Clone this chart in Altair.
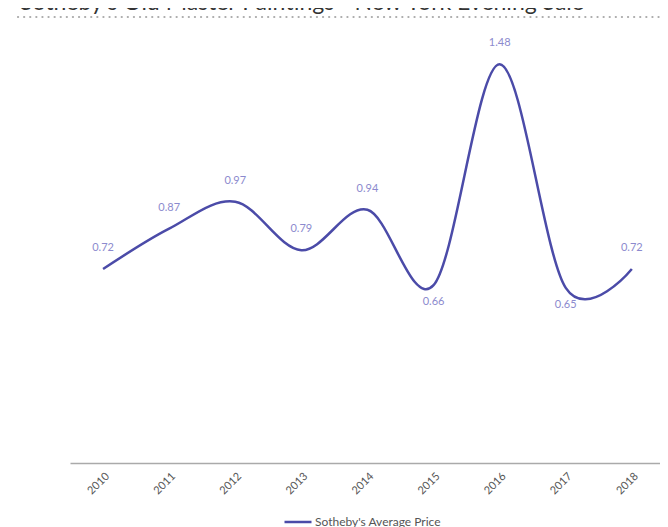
import altair as alt
import pandas as pd

years = ["2010", "2011", "2012", "2013", "2014", "2015", "2016", "2017", "2018"]
avg_price = [0.72, 0.87, 0.97, 0.79, 0.94, 0.66, 1.48, 0.65, 0.72]
labels_below = ["2015", "2017"]
series_name = "Sotheby's Average Price"
title_text = "Sotheby's Old Master Paintings - New York Evening Sale"

LINE = "#4b4ba8"
LABEL = "#8c8ace"
FONT = "Lato"

df = pd.DataFrame({"year": years, "price": avg_price})
df["series"] = series_name
df["label"] = [f"{v:.2f}" for v in avg_price]
df["below"] = [y in labels_below for y in years]

W, H = 590, 431

x = alt.X("year:O", scale=alt.Scale(type="point", padding=0.463, align=0.54),
          axis=alt.Axis(title=None, labelAngle=-45, labelFontSize=11, labelColor="#555",
                        labelFont=FONT, domainColor="#aaa", domainWidth=1.5, ticks=False,
                        grid=False, labelPadding=7))
y = alt.Y("price:Q", scale=alt.Scale(domain=[0, 1.6], nice=False, zero=True), axis=None)

base = alt.Chart(df)

line = base.mark_line(interpolate="cardinal", strokeWidth=2.5).encode(
    x=x, y=y,
    color=alt.Color("series:N", scale=alt.Scale(range=[LINE]),
                    legend=alt.Legend(title=None, orient="none", legendX=213, legendY=475,
                                      symbolType="stroke", symbolSize=729, symbolStrokeWidth=2.5,
                                      labelFontSize=12, labelColor="#555", labelFont=FONT,
                                      labelOffset=2, padding=0)),
)

above = base.transform_filter("!datum.below").mark_text(
    dy=-21, fontSize=11, color=LABEL, font=FONT).encode(x=x, y=y, text="label:N")
below = base.transform_filter("datum.below").mark_text(
    dy=17, fontSize=11, color=LABEL, font=FONT).encode(x=x, y=y, text="label:N")

title = alt.Chart(pd.DataFrame({"t": [title_text]})).mark_text(
    align="left", baseline="alphabetic", fontSize=23, color="#333", font=FONT
).encode(x=alt.value(-50), y=alt.value(-22), text="t:N")

dots = alt.Chart(pd.DataFrame({"d": [0]})).mark_rule(
    strokeDash=[0.1, 6], strokeCap="round", strokeWidth=2.2, color="#aaa"
).encode(x=alt.value(-52), x2=alt.value(598), y=alt.value(-15))

chart = alt.layer(line, above, below, title, dots).properties(
    width=W, height=H,
    background="white",
    autosize=alt.AutoSizeParams(type="none"),
    padding={"left": 62, "top": 24, "right": 0, "bottom": 64},
).configure_view(strokeWidth=0)

chart.save("out.html", embed_options={"renderer": "svg", "actions": False})
